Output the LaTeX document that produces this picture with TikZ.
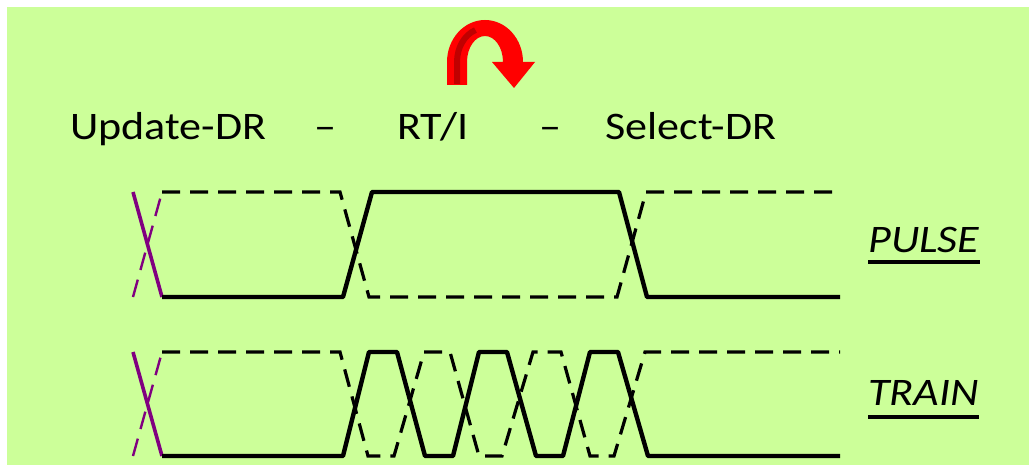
\documentclass[tikz,border=0pt]{standalone}
\usepackage{fontspec}
\usepackage{tikz}
\usetikzlibrary{positioning,calc}
\newfontfamily\labelfont{Carlito}[FakeStretch=1.13]
\definecolor{lime}{HTML}{CCFF99}
\definecolor{plum}{HTML}{800080}
\definecolor{brightred}{HTML}{FF0000}
\definecolor{deepred}{HTML}{C00000}

\begin{document}
\begin{tikzpicture}[x=0.5pt, y=-0.5pt,
    lbl/.style={inner sep=0pt, anchor=base west, font=\labelfont\fontsize{19.5}{22}\selectfont},
    sig/.style={line width=2.2pt, line join=round},
    ghost/.style={line width=1.6pt, dash pattern=on 9pt off 5pt},
    ulbar/.style={line width=1.6pt}]
\useasboundingbox (0,0) rectangle (1029,465);
\fill[lime] (7,7) rectangle (1029,465);

% curved arrow
\fill[brightred] (447,85) -- (447,62) arc[start angle=180, end angle=360, x radius=38, y radius=42]
    -- (535,62) -- (514,88) -- (492,62) -- (503,62)
    arc[start angle=360, end angle=180, x radius=18, y radius=26] -- (467,85) -- cycle;
\draw[deepred, line width=3pt] (457,84) -- (457,62) arc[start angle=180, end angle=250, x radius=28, y radius=34];

% state sequence
\node[lbl] (upd) at (70,140) {Update-DR};
\node[lbl] (dash1) at (314,140) {–};
\node[lbl] (rti) at (397,140) {RT/I};
\node[lbl] (dash2) at (539,140) {–};
\node[lbl] (sel) at (605,140) {Select-DR};

% pulse
\draw[plum, line width=1.8pt] (133,192) -- (162,297);
\draw[plum, line width=1.2pt, dash pattern=on 9pt off 5pt] (133,297) -- (162,192);
\draw[ghost] (162,192) -- (340,192) -- (369,297) -- (617,297) -- (646,192) -- (840,192);
\draw[sig] (162,297) -- (343,297) -- (372,192) -- (619,192) -- (647,297) -- (840,297);

% train
\draw[plum, line width=1.8pt] (133,352) -- (162,456);
\draw[plum, line width=1.2pt, dash pattern=on 9pt off 5pt] (133,456) -- (162,352);
\draw[ghost] (162,352) -- (340,352) -- (368,456) -- (394,456) -- (424,352) -- (450,352)
    -- (479,456) -- (502,456) -- (533,352) -- (561,352) -- (590,456) -- (614,456)
    -- (645,352) -- (840,352);
\draw[sig] (162,456) -- (343,456) -- (369,352) -- (397,352) -- (425,456) -- (453,456)
    -- (479,352) -- (507,352) -- (536,456) -- (563,456) -- (590,352) -- (618,352)
    -- (648,456) -- (840,456);

% labels
\node[lbl] (pulse) at (868,252) {\itshape PULSE};
\node[lbl] (train) at (868,405) {\itshape TRAIN};
\draw[ulbar] ([yshift=-5pt]pulse.base west) -- ([yshift=-5pt]pulse.base east);
\draw[ulbar] ([yshift=-6pt]train.base west) -- ([yshift=-6pt]train.base east);
\end{tikzpicture}
\end{document}
